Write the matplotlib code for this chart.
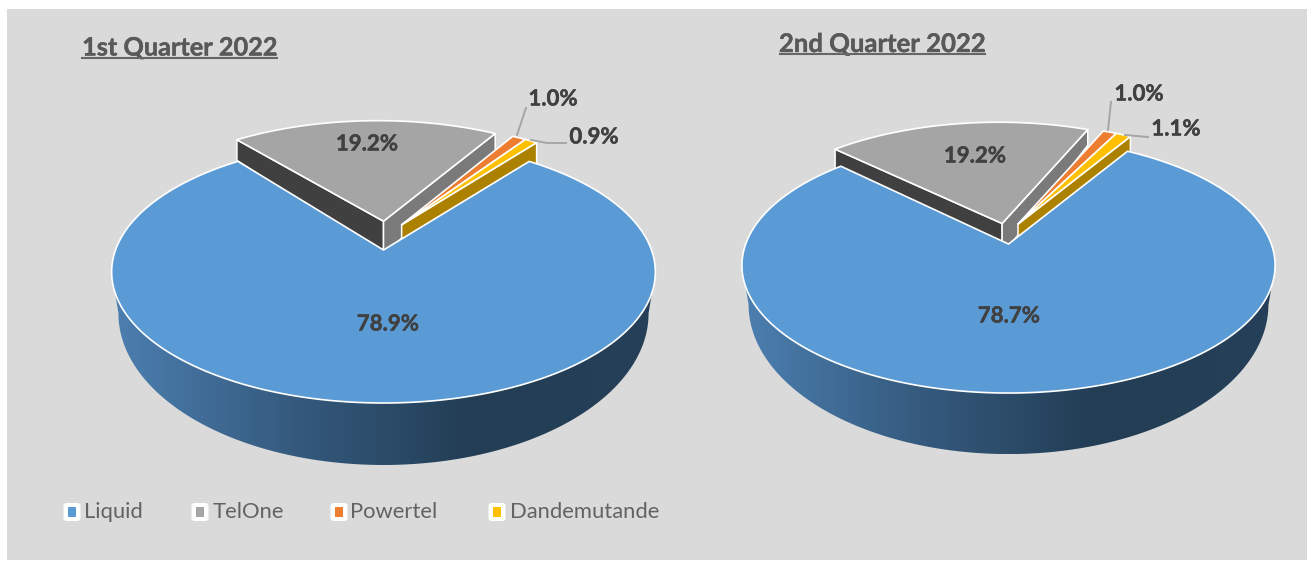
import numpy as np
import matplotlib
matplotlib.use('Agg')
import matplotlib.pyplot as plt
import matplotlib.patheffects as pe
from matplotlib.patches import Polygon, Rectangle, FancyBboxPatch
from matplotlib.colors import LinearSegmentedColormap

plt.rcParams['font.family'] = ['Lato', 'DejaVu Sans']

# Chart data
categories = ['Liquid', 'TelOne', 'Powertel', 'Dandemutande']
q1_values = [78.9, 19.2, 1.0, 0.9]
q2_values = [78.7, 19.2, 1.0, 1.1]
q1_title = '1st Quarter 2022'
q2_title = '2nd Quarter 2022'

colors = ['#5B9BD5', '#A5A5A5', '#ED7D31', '#FFC000']
TEXT = '#404040'
wall_cmap = LinearSegmentedColormap.from_list(
    'wall', ['#4C7FB0', '#355A7E', '#223D54', '#254058'])

K = 0.168  # perspective of the pie top


def project(p, X, Y):
    w = 1 + K * Y
    return p['cx'] + p['A'] * X / w, p['ay'] - p['B'] * Y / w


def drop(p, x, y):
    # position of a top point on the bottom face of the pie
    return p['cx'] + (x - p['cx']) * p['sx'], y + p['d0'] + (y - p['y0']) * p['ds']


def rim(p, a0, a1, shift):
    t = np.radians(np.linspace(a0, a1, max(int(abs(a1 - a0)) * 2, 8)))
    return project(p, np.sin(t) + shift[0], np.cos(t) + shift[1])


def pie3d(ax, values, p):
    total = sum(values)
    edges = p['start'] + np.cumsum([0] + [v / total * 360 for v in values])
    sl = list(zip(edges[:-1], edges[1:]))
    shifts = [(0, 0), p['gray_shift'], p['small_shift'], p['small_shift']]
    apexes = [(0, 0), p['gray_apex'], p['small_apex'], p['small_apex']]

    # front wall of the big slice, gradient clipped to its outline
    xs, ys = rim(p, sl[0][0], sl[0][1], (0, 0))
    i0, i1 = np.argmax(xs), np.argmin(xs)
    xs, ys = xs[i0:i1 + 1], ys[i0:i1 + 1]
    bx, by = drop(p, xs, ys)
    left, right = xs.min(), xs.max()
    outline = Polygon(np.column_stack([np.r_[xs, bx[::-1]], np.r_[ys, by[::-1]]]),
                      fc='none', ec='none', transform=ax.transData)
    ax.add_patch(outline)
    im = ax.imshow(np.linspace(0, 1, 256)[None, :], cmap=wall_cmap, aspect='auto',
                   extent=(left, right, by.max(), ys.min()), zorder=1)
    im.set_clip_path(outline)

    def cut_face(idx, angle, color, z):
        ax0, ay0 = project(p, *apexes[idx])
        a = np.radians(angle)
        ex, ey = project(p, np.sin(a) + shifts[idx][0], np.cos(a) + shifts[idx][1])
        b0 = (ax0, drop(p, ax0, ay0)[1])
        b1 = (ex, drop(p, ex, ey)[1])
        ax.add_patch(Polygon([(ax0, ay0), (ex, ey), b1, b0], fc=color,
                             ec='white', lw=1.1, joinstyle='round', zorder=z))

    def top(idx, z):
        ax0, ay0 = project(p, *apexes[idx])
        x, y = rim(p, sl[idx][0], sl[idx][1], shifts[idx])
        pts = np.column_stack([np.r_[ax0, x], np.r_[ay0, y]])
        ax.add_patch(Polygon(pts, fc=colors[idx], ec='white', lw=1.2,
                             joinstyle='round', zorder=z))

    cut_face(1, sl[1][0], '#404040', 2)   # gray left face
    cut_face(1, sl[1][1], '#7A7A7A', 2)   # gray right face
    cut_face(3, sl[3][1], '#AD8100', 3)   # yellow right face
    top(1, 3)
    top(2, 4)
    top(3, 4)
    top(0, 5)

    # labels
    for (x, y), v in zip(p['label_xy'], values):
        ax.text(x, y, f'{v:.1f}%', ha='center', va='center', fontsize=16,
                fontweight='bold', color=TEXT, zorder=8,
                path_effects=[pe.withStroke(linewidth=0.3, foreground=TEXT)])
    for line in p['leaders']:
        ax.plot(*zip(*line), color='#A6A6A6', lw=1.4, zorder=7)


fig = plt.figure(figsize=(13.11, 5.61), dpi=100, facecolor='white')
ax = fig.add_axes([0, 0, 1, 1])
ax.add_patch(Rectangle((7, 9), 1300, 551, fc='#DADADA', ec='none', zorder=0))

left_pie = dict(cx=383.5, ay=250, A=268, B=127.3, start=38, sx=0.975, y0=142,
                d0=21, ds=0.157, gray_shift=(-0.025, 0.225), gray_apex=(0, 0.235),
                small_shift=(0.05, 0.195), small_apex=(0.07, 0.205),
                label_xy=[(388, 324), (367, 144), (553, 99), (594, 137)],
                leaders=[[(517, 135), (526, 108)],
                         [(531, 140), (547, 143), (566, 143)]])
right_pie = dict(cx=1008.5, ay=244, A=262.8, B=124, start=31.2, sx=0.975, y0=137,
                 d0=17, ds=0.172, gray_shift=(-0.044, 0.176), gray_apex=(-0.025, 0.17),
                 small_shift=(0.025, 0.16), small_apex=(0.037, 0.165),
                 label_xy=[(1009, 316), (975, 156), (1139, 94), (1176, 129)],
                 leaders=[[(1108, 130), (1111, 102)],
                          [(1125, 135), (1148, 137)]])

pie3d(ax, q1_values, left_pie)
pie3d(ax, q2_values, right_pie)

# Titles, underlined
for title, x0, x1, y, size in [(q1_title, 82, 277, 48, 18.2), (q2_title, 780, 985, 44, 18.5)]:
    ax.text((x0 + x1) / 2, y, title, ha='center', va='center', fontsize=size,
            fontweight='bold', color='#595959', zorder=8,
            path_effects=[pe.withStroke(linewidth=0.3, foreground='#595959')])
    ax.plot([x0, x1], [y + 10, y + 10], color='#666666', lw=1.5, zorder=8)

# Legend
legend_marker_x = [72, 200, 339, 497]
legend_text_x = [84.5, 212.5, 349.5, 510]
for name, c, mx, tx in zip(categories, colors, legend_marker_x, legend_text_x):
    ax.add_patch(FancyBboxPatch((mx - 6.5, 505), 13, 14, boxstyle='round,pad=2,rounding_size=3',
                                fc='white', ec='none', zorder=8))
    ax.add_patch(Rectangle((mx - 4, 507), 8, 10, fc=c, ec='none', zorder=9))
    ax.text(tx, 512, name, ha='left', va='center', fontsize=15.8, color='#636363', zorder=8)

ax.set_xlim(0, 1311)
ax.set_ylim(561, 0)
ax.axis('off')

fig.savefig('out.png', dpi=100, facecolor='white')
